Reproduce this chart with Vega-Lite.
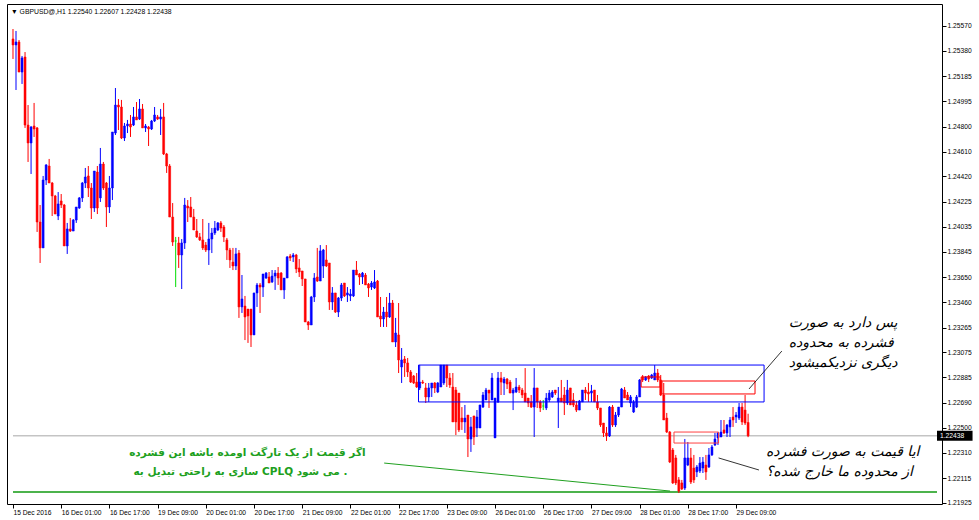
{
"$schema": "https://vega.github.io/schema/vega-lite/v6.json",
"width": 935, "height": 500,
"autosize": {"type": "none"},
"padding": {"left": 7, "top": 4, "right": 37, "bottom": 16},
"background": "white",
"config": {"view": {"stroke": "#000000", "strokeWidth": 1}, "font": "Liberation Sans",
  "axisX": {"labelExpr": "['15 Dec 2016','16 Dec 01:00','16 Dec 17:00','19 Dec 09:00','20 Dec 01:00','20 Dec 17:00','21 Dec 09:00','22 Dec 01:00','22 Dec 17:00','23 Dec 09:00','26 Dec 01:00','26 Dec 17:00','27 Dec 09:00','28 Dec 01:00','28 Dec 17:00','29 Dec 09:00'][round(datum.value/16)]", "grid": false, "domain": false, "tickSize": 4, "tickColor": "#000000", "labelAlign": "left", "labelBaseline": "top", "labelPadding": 1, "labelFont": "Liberation Sans", "labelFontSize": 6.7, "labelColor": "#000000", "labelFlush": false, "labelOverlap": false, "labelBound": false},
  "axisY": {"format": ".5f", "grid": false, "domain": false, "tickSize": 4, "tickColor": "#000000", "labelAlign": "left", "labelBaseline": "middle", "labelPadding": 1, "labelFont": "Liberation Sans", "labelFontSize": 6.7, "labelColor": "#000000", "labelFlush": false, "labelOverlap": false, "labelBound": false}
},
"title": {"text": "\u25bc GBPUSD@,H1  1.22540 1.22607 1.22428 1.22438", "anchor": "start", "frame": "group", "orient": "top", "offset": -15, "baseline": "middle", "dx": 4, "fontSize": 6.8, "fontWeight": "normal", "font": "Liberation Sans", "color": "#000000"},
"data": {"values": [
{"i":0,"o":1.25471,"h":1.25547,"l":1.25318,"c":1.25425},
{"i":1,"o":1.25425,"h":1.25532,"l":1.25081,"c":1.25448},
{"i":2,"o":1.25448,"h":1.25463,"l":1.25218,"c":1.25218},
{"i":3,"o":1.25218,"h":1.25341,"l":1.25127,"c":1.25326},
{"i":4,"o":1.25333,"h":1.25371,"l":1.24791,"c":1.24813},
{"i":5,"o":1.24813,"h":1.24966,"l":1.24531,"c":1.24676},
{"i":6,"o":1.24676,"h":1.24806,"l":1.24439,"c":1.24798},
{"i":7,"o":1.24806,"h":1.24982,"l":1.24722,"c":1.24783},
{"i":8,"o":1.24791,"h":1.24798,"l":1.23996,"c":1.24072},
{"i":9,"o":1.24072,"h":1.24202,"l":1.23759,"c":1.23874},
{"i":10,"o":1.23874,"h":1.24424,"l":1.23874,"c":1.24393},
{"i":11,"o":1.24393,"h":1.24515,"l":1.24355,"c":1.24508},
{"i":12,"o":1.24500,"h":1.24554,"l":1.24370,"c":1.24370},
{"i":13,"o":1.24370,"h":1.24378,"l":1.24118,"c":1.24271},
{"i":14,"o":1.24271,"h":1.24279,"l":1.24133,"c":1.24133},
{"i":15,"o":1.24118,"h":1.24301,"l":1.24087,"c":1.24210},
{"i":16,"o":1.24233,"h":1.24286,"l":1.24179,"c":1.24202},
{"i":17,"o":1.24202,"h":1.24210,"l":1.23889,"c":1.23889},
{"i":18,"o":1.23889,"h":1.24065,"l":1.23828,"c":1.24019},
{"i":19,"o":1.24019,"h":1.24103,"l":1.23996,"c":1.24003},
{"i":20,"o":1.24003,"h":1.24095,"l":1.24003,"c":1.24087},
{"i":21,"o":1.24087,"h":1.24187,"l":1.24065,"c":1.24187},
{"i":22,"o":1.24179,"h":1.24263,"l":1.24172,"c":1.24256},
{"i":23,"o":1.24256,"h":1.24378,"l":1.24225,"c":1.24370},
{"i":24,"o":1.24370,"h":1.24485,"l":1.24332,"c":1.24416},
{"i":25,"o":1.24424,"h":1.24500,"l":1.24263,"c":1.24332},
{"i":26,"o":1.24332,"h":1.24370,"l":1.24095,"c":1.24179},
{"i":27,"o":1.24179,"h":1.24462,"l":1.24149,"c":1.24462},
{"i":28,"o":1.24454,"h":1.24500,"l":1.24133,"c":1.24179},
{"i":29,"o":1.24256,"h":1.24638,"l":1.24225,"c":1.24515},
{"i":30,"o":1.24515,"h":1.24531,"l":1.24317,"c":1.24332},
{"i":31,"o":1.24370,"h":1.24378,"l":1.24034,"c":1.24187},
{"i":32,"o":1.24187,"h":1.24424,"l":1.24141,"c":1.24332},
{"i":33,"o":1.24332,"h":1.24760,"l":1.24240,"c":1.24760},
{"i":34,"o":1.24752,"h":1.25096,"l":1.24737,"c":1.24966},
{"i":35,"o":1.24966,"h":1.25012,"l":1.24775,"c":1.24951},
{"i":36,"o":1.24951,"h":1.25005,"l":1.24706,"c":1.24714},
{"i":37,"o":1.24714,"h":1.24829,"l":1.24691,"c":1.24806},
{"i":38,"o":1.24806,"h":1.24852,"l":1.24752,"c":1.24821},
{"i":39,"o":1.24821,"h":1.24890,"l":1.24722,"c":1.24798},
{"i":40,"o":1.24813,"h":1.24951,"l":1.24806,"c":1.24875},
{"i":41,"o":1.24875,"h":1.24989,"l":1.24852,"c":1.24852},
{"i":42,"o":1.24859,"h":1.25012,"l":1.24852,"c":1.24936},
{"i":43,"o":1.24936,"h":1.24974,"l":1.24791,"c":1.24791},
{"i":44,"o":1.24791,"h":1.24821,"l":1.24760,"c":1.24806},
{"i":45,"o":1.24798,"h":1.24806,"l":1.24653,"c":1.24783},
{"i":46,"o":1.24783,"h":1.24852,"l":1.24775,"c":1.24844},
{"i":47,"o":1.24844,"h":1.24951,"l":1.24836,"c":1.24890},
{"i":48,"o":1.24875,"h":1.24890,"l":1.24852,"c":1.24859},
{"i":49,"o":1.24859,"h":1.24936,"l":1.24737,"c":1.24875},
{"i":50,"o":1.24875,"h":1.24982,"l":1.24584,"c":1.24592},
{"i":51,"o":1.24592,"h":1.24600,"l":1.24447,"c":1.24500},
{"i":52,"o":1.24500,"h":1.24515,"l":1.24110,"c":1.24110},
{"i":53,"o":1.24110,"h":1.24217,"l":1.23889,"c":1.23919},
{"i":54,"o":1.23927,"h":1.23958,"l":1.23575,"c":1.23927},
{"i":55,"o":1.23912,"h":1.23958,"l":1.23721,"c":1.23820},
{"i":56,"o":1.23820,"h":1.23942,"l":1.23560,"c":1.23912},
{"i":57,"o":1.23912,"h":1.24256,"l":1.23866,"c":1.24202},
{"i":58,"o":1.24194,"h":1.24240,"l":1.24072,"c":1.24179},
{"i":59,"o":1.24187,"h":1.24263,"l":1.24110,"c":1.24110},
{"i":60,"o":1.24110,"h":1.24172,"l":1.24011,"c":1.24011},
{"i":61,"o":1.24003,"h":1.24095,"l":1.23950,"c":1.23958},
{"i":62,"o":1.23958,"h":1.23988,"l":1.23927,"c":1.23935},
{"i":63,"o":1.23935,"h":1.24095,"l":1.23858,"c":1.23874},
{"i":64,"o":1.23896,"h":1.23919,"l":1.23843,"c":1.23858},
{"i":65,"o":1.23858,"h":1.24065,"l":1.23744,"c":1.23942},
{"i":66,"o":1.23942,"h":1.24026,"l":1.23835,"c":1.23988},
{"i":67,"o":1.23988,"h":1.24080,"l":1.23973,"c":1.24026},
{"i":68,"o":1.24011,"h":1.24072,"l":1.24003,"c":1.24065},
{"i":69,"o":1.24065,"h":1.24080,"l":1.23996,"c":1.24026},
{"i":70,"o":1.24034,"h":1.24049,"l":1.23919,"c":1.23958},
{"i":71,"o":1.23935,"h":1.23950,"l":1.23782,"c":1.23858},
{"i":72,"o":1.23858,"h":1.23874,"l":1.23721,"c":1.23782},
{"i":73,"o":1.23766,"h":1.23874,"l":1.23705,"c":1.23736},
{"i":74,"o":1.23736,"h":1.23874,"l":1.23705,"c":1.23828},
{"i":75,"o":1.23835,"h":1.23858,"l":1.23339,"c":1.23423},
{"i":76,"o":1.23423,"h":1.23667,"l":1.23377,"c":1.23484},
{"i":77,"o":1.23430,"h":1.23507,"l":1.23170,"c":1.23346},
{"i":78,"o":1.23407,"h":1.23407,"l":1.23148,"c":1.23354},
{"i":79,"o":1.23407,"h":1.23407,"l":1.23117,"c":1.23209},
{"i":80,"o":1.23209,"h":1.23530,"l":1.23209,"c":1.23530},
{"i":81,"o":1.23530,"h":1.23606,"l":1.23423,"c":1.23591},
{"i":82,"o":1.23591,"h":1.23606,"l":1.23377,"c":1.23575},
{"i":83,"o":1.23575,"h":1.23675,"l":1.23499,"c":1.23675},
{"i":84,"o":1.23644,"h":1.23690,"l":1.23637,"c":1.23682},
{"i":85,"o":1.23652,"h":1.23690,"l":1.23606,"c":1.23606},
{"i":86,"o":1.23614,"h":1.23705,"l":1.23606,"c":1.23659},
{"i":87,"o":1.23659,"h":1.23705,"l":1.23553,"c":1.23682},
{"i":88,"o":1.23682,"h":1.23728,"l":1.23591,"c":1.23644},
{"i":89,"o":1.23682,"h":1.23690,"l":1.23553,"c":1.23553},
{"i":90,"o":1.23553,"h":1.23644,"l":1.23484,"c":1.23644},
{"i":91,"o":1.23644,"h":1.23812,"l":1.23644,"c":1.23805},
{"i":92,"o":1.23812,"h":1.23828,"l":1.23774,"c":1.23797},
{"i":93,"o":1.23805,"h":1.23835,"l":1.23766,"c":1.23820},
{"i":94,"o":1.23820,"h":1.23828,"l":1.23682,"c":1.23713},
{"i":95,"o":1.23721,"h":1.23789,"l":1.23652,"c":1.23690},
{"i":96,"o":1.23698,"h":1.23698,"l":1.23583,"c":1.23637},
{"i":97,"o":1.23637,"h":1.23637,"l":1.23308,"c":1.23308},
{"i":98,"o":1.23308,"h":1.23316,"l":1.23247,"c":1.23285},
{"i":99,"o":1.23285,"h":1.23507,"l":1.23285,"c":1.23499},
{"i":100,"o":1.23499,"h":1.23682,"l":1.23461,"c":1.23644},
{"i":101,"o":1.23652,"h":1.23874,"l":1.23614,"c":1.23621},
{"i":102,"o":1.23621,"h":1.23896,"l":1.23621,"c":1.23851},
{"i":103,"o":1.23736,"h":1.23866,"l":1.23644,"c":1.23858},
{"i":104,"o":1.23782,"h":1.23896,"l":1.23728,"c":1.23736},
{"i":105,"o":1.23759,"h":1.23759,"l":1.23400,"c":1.23461},
{"i":106,"o":1.23461,"h":1.23575,"l":1.23400,"c":1.23530},
{"i":107,"o":1.23530,"h":1.23530,"l":1.23377,"c":1.23384},
{"i":108,"o":1.23384,"h":1.23499,"l":1.23346,"c":1.23491},
{"i":109,"o":1.23491,"h":1.23606,"l":1.23468,"c":1.23591},
{"i":110,"o":1.23606,"h":1.23606,"l":1.23499,"c":1.23507},
{"i":111,"o":1.23514,"h":1.23575,"l":1.23461,"c":1.23530},
{"i":112,"o":1.23507,"h":1.23560,"l":1.23468,"c":1.23522},
{"i":113,"o":1.23507,"h":1.23705,"l":1.23499,"c":1.23705},
{"i":114,"o":1.23705,"h":1.23774,"l":1.23667,"c":1.23667},
{"i":115,"o":1.23675,"h":1.23682,"l":1.23591,"c":1.23652},
{"i":116,"o":1.23652,"h":1.23690,"l":1.23598,"c":1.23682},
{"i":117,"o":1.23667,"h":1.23682,"l":1.23591,"c":1.23591},
{"i":118,"o":1.23598,"h":1.23606,"l":1.23499,"c":1.23568},
{"i":119,"o":1.23575,"h":1.23621,"l":1.23553,"c":1.23606},
{"i":120,"o":1.23568,"h":1.23705,"l":1.23560,"c":1.23614},
{"i":121,"o":1.23621,"h":1.23629,"l":1.23346,"c":1.23346},
{"i":122,"o":1.23354,"h":1.23499,"l":1.23270,"c":1.23331},
{"i":123,"o":1.23331,"h":1.23423,"l":1.23270,"c":1.23384},
{"i":124,"o":1.23384,"h":1.23499,"l":1.23270,"c":1.23346},
{"i":125,"o":1.23346,"h":1.23530,"l":1.23339,"c":1.23453},
{"i":126,"o":1.23453,"h":1.23476,"l":1.23155,"c":1.23155},
{"i":127,"o":1.23155,"h":1.23339,"l":1.23117,"c":1.23224},
{"i":128,"o":1.23209,"h":1.23453,"l":1.22918,"c":1.23018},
{"i":129,"o":1.22964,"h":1.23109,"l":1.22842,"c":1.23018},
{"i":130,"o":1.23025,"h":1.23048,"l":1.22888,"c":1.22995},
{"i":131,"o":1.22995,"h":1.23033,"l":1.22888,"c":1.22926},
{"i":132,"o":1.22926,"h":1.22941,"l":1.22842,"c":1.22849},
{"i":133,"o":1.22895,"h":1.22903,"l":1.22834,"c":1.22842},
{"i":134,"o":1.22849,"h":1.22918,"l":1.22804,"c":1.22811},
{"i":135,"o":1.22804,"h":1.22979,"l":1.22788,"c":1.22849},
{"i":136,"o":1.22849,"h":1.22865,"l":1.22834,"c":1.22842},
{"i":137,"o":1.22804,"h":1.22842,"l":1.22689,"c":1.22735},
{"i":138,"o":1.22735,"h":1.22842,"l":1.22697,"c":1.22804},
{"i":139,"o":1.22804,"h":1.22842,"l":1.22735,"c":1.22842},
{"i":140,"o":1.22842,"h":1.22849,"l":1.22765,"c":1.22804},
{"i":141,"o":1.22773,"h":1.22849,"l":1.22765,"c":1.22842},
{"i":142,"o":1.22811,"h":1.22979,"l":1.22811,"c":1.22979},
{"i":143,"o":1.22842,"h":1.22979,"l":1.22827,"c":1.22979},
{"i":144,"o":1.22979,"h":1.22979,"l":1.22811,"c":1.22880},
{"i":145,"o":1.22880,"h":1.22918,"l":1.22804,"c":1.22827},
{"i":146,"o":1.22811,"h":1.22918,"l":1.22544,"c":1.22544},
{"i":147,"o":1.22788,"h":1.22811,"l":1.22444,"c":1.22544},
{"i":148,"o":1.22765,"h":1.22765,"l":1.22467,"c":1.22483},
{"i":149,"o":1.22574,"h":1.22658,"l":1.22483,"c":1.22544},
{"i":150,"o":1.22544,"h":1.22674,"l":1.22460,"c":1.22574},
{"i":151,"o":1.22597,"h":1.22597,"l":1.22276,"c":1.22414},
{"i":152,"o":1.22414,"h":1.22582,"l":1.22315,"c":1.22506},
{"i":153,"o":1.22590,"h":1.22590,"l":1.22368,"c":1.22429},
{"i":154,"o":1.22498,"h":1.22635,"l":1.22429,"c":1.22582},
{"i":155,"o":1.22498,"h":1.22674,"l":1.22498,"c":1.22674},
{"i":156,"o":1.22658,"h":1.22773,"l":1.22651,"c":1.22750},
{"i":157,"o":1.22712,"h":1.22804,"l":1.22712,"c":1.22788},
{"i":158,"o":1.22788,"h":1.22788,"l":1.22651,"c":1.22765},
{"i":159,"o":1.22712,"h":1.22918,"l":1.22712,"c":1.22880},
{"i":160,"o":1.22422,"h":1.22727,"l":1.22422,"c":1.22727},
{"i":161,"o":1.22697,"h":1.22926,"l":1.22689,"c":1.22880},
{"i":162,"o":1.22880,"h":1.22926,"l":1.22750,"c":1.22849},
{"i":163,"o":1.22842,"h":1.22888,"l":1.22750,"c":1.22872},
{"i":164,"o":1.22872,"h":1.22880,"l":1.22796,"c":1.22834},
{"i":165,"o":1.22849,"h":1.22865,"l":1.22765,"c":1.22765},
{"i":166,"o":1.22765,"h":1.22804,"l":1.22635,"c":1.22788},
{"i":167,"o":1.22773,"h":1.22880,"l":1.22765,"c":1.22811},
{"i":168,"o":1.22811,"h":1.22827,"l":1.22765,"c":1.22788},
{"i":169,"o":1.22788,"h":1.22804,"l":1.22727,"c":1.22750},
{"i":170,"o":1.22765,"h":1.22956,"l":1.22697,"c":1.22697},
{"i":171,"o":1.22727,"h":1.22727,"l":1.22658,"c":1.22689},
{"i":172,"o":1.22697,"h":1.22750,"l":1.22651,"c":1.22658},
{"i":173,"o":1.22658,"h":1.22956,"l":1.22429,"c":1.22804},
{"i":174,"o":1.22804,"h":1.22804,"l":1.22651,"c":1.22697},
{"i":175,"o":1.22697,"h":1.22712,"l":1.22620,"c":1.22651},
{"i":176,"o":1.22666,"h":1.22712,"l":1.22635,"c":1.22666},
{"i":177,"o":1.22651,"h":1.22765,"l":1.22635,"c":1.22727},
{"i":178,"o":1.22712,"h":1.22788,"l":1.22697,"c":1.22765},
{"i":179,"o":1.22735,"h":1.22788,"l":1.22727,"c":1.22773},
{"i":180,"o":1.22788,"h":1.22788,"l":1.22750,"c":1.22765},
{"i":181,"o":1.22697,"h":1.22811,"l":1.22498,"c":1.22727},
{"i":182,"o":1.22727,"h":1.22865,"l":1.22697,"c":1.22697},
{"i":183,"o":1.22750,"h":1.22811,"l":1.22597,"c":1.22689},
{"i":184,"o":1.22689,"h":1.22865,"l":1.22674,"c":1.22788},
{"i":185,"o":1.22804,"h":1.22804,"l":1.22674,"c":1.22674},
{"i":186,"o":1.22712,"h":1.22765,"l":1.22658,"c":1.22674},
{"i":187,"o":1.22674,"h":1.22704,"l":1.22620,"c":1.22635},
{"i":188,"o":1.22635,"h":1.22712,"l":1.22635,"c":1.22704},
{"i":189,"o":1.22697,"h":1.22788,"l":1.22697,"c":1.22788},
{"i":190,"o":1.22788,"h":1.22811,"l":1.22712,"c":1.22765},
{"i":191,"o":1.22773,"h":1.22842,"l":1.22697,"c":1.22758},
{"i":192,"o":1.22765,"h":1.22827,"l":1.22697,"c":1.22781},
{"i":193,"o":1.22788,"h":1.22788,"l":1.22697,"c":1.22697},
{"i":194,"o":1.22697,"h":1.22750,"l":1.22635,"c":1.22651},
{"i":195,"o":1.22651,"h":1.22651,"l":1.22506,"c":1.22521},
{"i":196,"o":1.22536,"h":1.22536,"l":1.22429,"c":1.22460},
{"i":197,"o":1.22460,"h":1.22506,"l":1.22399,"c":1.22437},
{"i":198,"o":1.22437,"h":1.22666,"l":1.22429,"c":1.22658},
{"i":199,"o":1.22658,"h":1.22674,"l":1.22506,"c":1.22521},
{"i":200,"o":1.22521,"h":1.22620,"l":1.22506,"c":1.22597},
{"i":201,"o":1.22597,"h":1.22658,"l":1.22582,"c":1.22658},
{"i":202,"o":1.22658,"h":1.22804,"l":1.22658,"c":1.22796},
{"i":203,"o":1.22788,"h":1.22811,"l":1.22727,"c":1.22727},
{"i":204,"o":1.22750,"h":1.22773,"l":1.22712,"c":1.22712},
{"i":205,"o":1.22689,"h":1.22750,"l":1.22658,"c":1.22735},
{"i":206,"o":1.22620,"h":1.22712,"l":1.22613,"c":1.22697},
{"i":207,"o":1.22658,"h":1.22750,"l":1.22651,"c":1.22735},
{"i":208,"o":1.22735,"h":1.22872,"l":1.22735,"c":1.22865},
{"i":209,"o":1.22888,"h":1.22903,"l":1.22849,"c":1.22865},
{"i":210,"o":1.22865,"h":1.22895,"l":1.22857,"c":1.22888},
{"i":211,"o":1.22895,"h":1.22903,"l":1.22849,"c":1.22872},
{"i":212,"o":1.22880,"h":1.22911,"l":1.22872,"c":1.22903},
{"i":213,"o":1.22865,"h":1.22979,"l":1.22865,"c":1.22918},
{"i":214,"o":1.22918,"h":1.22949,"l":1.22849,"c":1.22865},
{"i":215,"o":1.22865,"h":1.22903,"l":1.22742,"c":1.22750},
{"i":216,"o":1.22750,"h":1.22842,"l":1.22559,"c":1.22559},
{"i":217,"o":1.22574,"h":1.22613,"l":1.22460,"c":1.22467},
{"i":218,"o":1.22467,"h":1.22475,"l":1.22230,"c":1.22238},
{"i":219,"o":1.22330,"h":1.22345,"l":1.22070,"c":1.22078},
{"i":220,"o":1.22269,"h":1.22292,"l":1.22062,"c":1.22078},
{"i":221,"o":1.22101,"h":1.22123,"l":1.22001,"c":1.22016},
{"i":222,"o":1.22078,"h":1.22101,"l":1.22024,"c":1.22032},
{"i":223,"o":1.22039,"h":1.22414,"l":1.22024,"c":1.22269},
{"i":224,"o":1.22215,"h":1.22391,"l":1.22207,"c":1.22269},
{"i":225,"o":1.22269,"h":1.22345,"l":1.22070,"c":1.22085},
{"i":226,"o":1.22192,"h":1.22292,"l":1.22078,"c":1.22101},
{"i":227,"o":1.22162,"h":1.22215,"l":1.22123,"c":1.22200},
{"i":228,"o":1.22169,"h":1.22276,"l":1.22154,"c":1.22230},
{"i":229,"o":1.22192,"h":1.22276,"l":1.22154,"c":1.22238},
{"i":230,"o":1.22215,"h":1.22292,"l":1.22101,"c":1.22162},
{"i":231,"o":1.22200,"h":1.22345,"l":1.22192,"c":1.22292},
{"i":232,"o":1.22292,"h":1.22368,"l":1.22284,"c":1.22353},
{"i":233,"o":1.22368,"h":1.22460,"l":1.22360,"c":1.22414},
{"i":234,"o":1.22422,"h":1.22467,"l":1.22368,"c":1.22460},
{"i":235,"o":1.22429,"h":1.22559,"l":1.22429,"c":1.22467},
{"i":236,"o":1.22483,"h":1.22559,"l":1.22452,"c":1.22460},
{"i":237,"o":1.22460,"h":1.22528,"l":1.22429,"c":1.22521},
{"i":238,"o":1.22506,"h":1.22582,"l":1.22429,"c":1.22559},
{"i":239,"o":1.22582,"h":1.22658,"l":1.22506,"c":1.22559},
{"i":240,"o":1.22582,"h":1.22620,"l":1.22536,"c":1.22597},
{"i":241,"o":1.22574,"h":1.22689,"l":1.22559,"c":1.22658},
{"i":242,"o":1.22658,"h":1.22689,"l":1.22521,"c":1.22544},
{"i":243,"o":1.22635,"h":1.22750,"l":1.22521,"c":1.22536},
{"i":244,"o":1.22540,"h":1.22607,"l":1.22428,"c":1.22438}
]},
"encoding": {
  "x": {"field": "i", "type": "quantitative", "title": null, "scale": {"domain": [-0.33, 306.7], "nice": false, "zero": false}, "axis": {"orient": "bottom", "values": [0,16,32,48,64,80,96,112,128,144,160,176,192,208,224,240], "tickCount": 40, "labelOverlap": false}},
  "y": {"field": "l", "type": "quantitative", "title": null, "scale": {"domain": [1.219171, 1.257381], "nice": false, "zero": false}, "axis": {"orient": "right", "values": [1.25570,1.25380,1.25185,1.24995,1.24800,1.24610,1.24420,1.24225,1.24035,1.23845,1.23650,1.23460,1.23265,1.23075,1.22885,1.22690,1.22500,1.22310,1.22115,1.21925], "tickCount": 40, "labelOverlap": false}}
},
"layer": [
{"data": {"values": [{"i": 0, "p": 1.22438, "i2": 306.7}]},
 "mark": {"type": "rule", "color": "#a8a8a8", "strokeWidth": 1},
 "encoding": {"x2": {"field": "i2"}, "y": {"field": "p", "type": "quantitative", "title": null, "scale": {"domain": [1.219171, 1.257381], "nice": false, "zero": false}, "axis": {"orient": "right", "tickCount": 40, "labelOverlap": false}}}},
{"data": {"values": [{"i": 0, "p": 1.22009, "i2": 306.7}]},
 "mark": {"type": "rule", "color": "#109a10", "strokeWidth": 1.5},
 "encoding": {"x2": {"field": "i2"}, "y": {"field": "p", "type": "quantitative", "title": null, "scale": {"domain": [1.219171, 1.257381], "nice": false, "zero": false}, "axis": {"orient": "right", "tickCount": 40, "labelOverlap": false}}}},
{"data": {"values": [{"i": 123.2, "p1": 1.22230, "i2": 218.1, "p2": 1.22016}]},
 "mark": {"type": "rule", "color": "#20a020", "strokeWidth": 1},
 "encoding": {
  "x2": {"field": "i2"},
  "y": {"field": "p1", "type": "quantitative", "title": null, "scale": {"domain": [1.219171, 1.257381], "nice": false, "zero": false}, "axis": {"orient": "right", "tickCount": 40, "labelOverlap": false}},
  "y2": {"field": "p2"}}},
{"mark": {"type": "rule", "strokeWidth": 1},
 "encoding": {
  "y2": {"field": "h"},
  "color": {"condition": [{"test": "datum.c > datum.o", "value": "#0000ff"}, {"test": "datum.c < datum.o", "value": "#ff0000"}], "value": "#00dd00"}}},
{"mark": {"type": "bar", "size": 2, "strokeWidth": 0.5},
 "encoding": {
  "y": {"field": "o", "type": "quantitative", "title": null, "scale": {"domain": [1.219171, 1.257381], "nice": false, "zero": false}, "axis": {"orient": "right", "tickCount": 40, "labelOverlap": false}},
  "y2": {"field": "c"},
  "color": {"condition": [{"test": "datum.c > datum.o", "value": "#0000ff"}, {"test": "datum.c < datum.o", "value": "#ff0000"}], "value": "#00dd00"},
  "stroke": {"condition": [{"test": "datum.c > datum.o", "value": "#0000ff"}, {"test": "datum.c < datum.o", "value": "#ff0000"}], "value": "#00dd00"}}},
{"data": {"values": [{"i": 134.6, "i2": 249.3, "p1": 1.22979, "p2": 1.22697}]},
 "mark": {"type": "rect", "fill": "transparent", "stroke": "#0000ff", "strokeWidth": 1},
 "encoding": {
  "x2": {"field": "i2"},
  "y": {"field": "p1", "type": "quantitative", "title": null, "scale": {"domain": [1.219171, 1.257381], "nice": false, "zero": false}, "axis": {"orient": "right", "tickCount": 40, "labelOverlap": false}},
  "y2": {"field": "p2"}}},
{"data": {"values": [{"i": 208.5, "i2": 214.8, "p1": 1.22888, "p2": 1.22811}, {"i": 215.4, "i2": 246.3, "p1": 1.22857, "p2": 1.22758}]},
 "mark": {"type": "rect", "fill": "transparent", "stroke": "#ff0000", "strokeWidth": 1},
 "encoding": {
  "x2": {"field": "i2"},
  "y": {"field": "p1", "type": "quantitative", "title": null, "scale": {"domain": [1.219171, 1.257381], "nice": false, "zero": false}, "axis": {"orient": "right", "tickCount": 40, "labelOverlap": false}},
  "y2": {"field": "p2"}}},
{"data": {"values": [{"i": 219.4, "i2": 234.2, "p1": 1.22467, "p2": 1.22383}]},
 "mark": {"type": "rect", "fill": "transparent", "stroke": "#ff4040", "strokeWidth": 1},
 "encoding": {
  "x2": {"field": "i2"},
  "y": {"field": "p1", "type": "quantitative", "title": null, "scale": {"domain": [1.219171, 1.257381], "nice": false, "zero": false}, "axis": {"orient": "right", "tickCount": 40, "labelOverlap": false}},
  "y2": {"field": "p2"}}},
{"data": {"values": [{"i": 244.3, "p1": 1.22796, "i2": 255.2, "p2": 1.23086}, {"i": 234.2, "p1": 1.22269, "i2": 247.6, "p2": 1.22177}]},
 "mark": {"type": "rule", "color": "#000000", "strokeWidth": 0.8},
 "encoding": {
  "x2": {"field": "i2"},
  "y": {"field": "p1", "type": "quantitative", "title": null, "scale": {"domain": [1.219171, 1.257381], "nice": false, "zero": false}, "axis": {"orient": "right", "tickCount": 40, "labelOverlap": false}},
  "y2": {"field": "p2"}}},
{"data": {"values": [
  {"i": 257.5, "p": 1.23300, "t": "پس دارد به صورت"},
  {"i": 257.5, "p": 1.23148, "t": "فشرده به محدوده"},
  {"i": 257.5, "p": 1.22995, "t": "دیگری نزدیکمیشود"},
  {"i": 249.9, "p": 1.22315, "t": "ایا قیمت به صورت فشرده"},
  {"i": 249.9, "p": 1.22162, "t": "از محدوده ما خارج شده؟"}]},
 "mark": {"type": "text", "align": "left", "baseline": "middle", "font": "DejaVu Sans", "fontSize": 14, "fontStyle": "italic", "color": "#000000"},
 "encoding": {
  "y": {"field": "p", "type": "quantitative", "title": null, "scale": {"domain": [1.219171, 1.257381], "nice": false, "zero": false}, "axis": {"orient": "right", "tickCount": 40, "labelOverlap": false}},
  "text": {"field": "t"}}},
{"data": {"values": [
  {"i": 77.8, "p": 1.22307, "t": "اگر قیمت از یک تارگت اومده باشه این فشرده"},
  {"i": 75.5, "p": 1.22162, "t": "سازی به راحتی تبدیل به CPLQ می شود ."}]},
 "mark": {"type": "text", "align": "center", "baseline": "middle", "dir": "rtl", "font": "DejaVu Sans", "fontSize": 10.5, "fontWeight": "bold", "color": "#20a020"},
 "encoding": {
  "y": {"field": "p", "type": "quantitative", "title": null, "scale": {"domain": [1.219171, 1.257381], "nice": false, "zero": false}, "axis": {"orient": "right", "tickCount": 40, "labelOverlap": false}},
  "text": {"field": "t"}}},
{"data": {"values": [{"i": 306.7, "i2": 318.5, "p": 1.22476, "p2": 1.22400}]},
 "mark": {"type": "rect", "color": "#000000"},
 "encoding": {
  "x2": {"field": "i2"},
  "y": {"field": "p", "type": "quantitative", "title": null, "scale": {"domain": [1.219171, 1.257381], "nice": false, "zero": false}, "axis": {"orient": "right", "tickCount": 40, "labelOverlap": false}},
  "y2": {"field": "p2"}}},
{"data": {"values": [{"i": 306.7, "p": 1.22438}]},
 "mark": {"type": "text", "align": "left", "baseline": "middle", "dx": 3, "font": "Liberation Sans", "fontSize": 6.7, "color": "#ffffff"},
 "encoding": {
  "y": {"field": "p", "type": "quantitative", "title": null, "scale": {"domain": [1.219171, 1.257381], "nice": false, "zero": false}, "axis": {"orient": "right", "tickCount": 40, "labelOverlap": false}},
  "text": {"field": "p", "type": "quantitative", "format": ".5f"}}}
]
}
